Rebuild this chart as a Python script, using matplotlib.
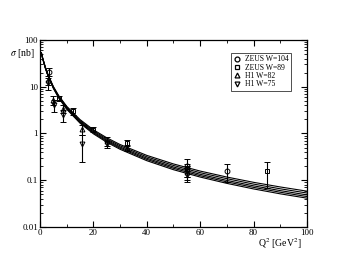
import numpy as np
import matplotlib
matplotlib.use("Agg")
import matplotlib.pyplot as plt
from matplotlib.lines import Line2D
from matplotlib.ticker import FixedLocator, LogLocator, NullFormatter, FixedFormatter

# =====================================================
# Data
# =====================================================

q2_curve = [0.5, 1, 2, 3, 5, 7, 10, 15, 20, 25, 30, 40, 50, 60, 70, 80, 90, 100]

curve_1 = [53.7, 41.0, 26.2, 18.1, 10.1, 6.46, 3.81, 1.98, 1.20, 0.809, 0.580, 0.340,
           0.223, 0.157, 0.117, 0.0902, 0.0718, 0.0584]
curve_2 = [53.5, 40.7, 25.8, 17.8, 9.88, 6.26, 3.67, 1.89, 1.14, 0.763, 0.545, 0.317,
           0.207, 0.145, 0.108, 0.0827, 0.0656, 0.0533]
curve_3 = [53.3, 40.4, 25.5, 17.5, 9.63, 6.07, 3.53, 1.80, 1.08, 0.720, 0.512, 0.296,
           0.192, 0.134, 0.0991, 0.0759, 0.0600, 0.0486]
curve_4 = [53.1, 40.1, 25.2, 17.2, 9.42, 5.91, 3.41, 1.73, 1.03, 0.684, 0.485, 0.279,
           0.180, 0.125, 0.0922, 0.0704, 0.0554, 0.0448]
curve_5 = [52.9, 39.9, 24.9, 17.0, 9.22, 5.75, 3.30, 1.66, 0.984, 0.650, 0.459, 0.262,
           0.168, 0.117, 0.0857, 0.0652, 0.0512, 0.0414]

zeus104_q2 = [3.5, 55, 70]
zeus104_sig = [21, 0.20, 0.158]
zeus104_err = [4, 0.08, 0.068]

zeus89_q2 = [7.0, 12.5, 20, 32.5, 55, 85]
zeus89_sig = [5.6, 3.0, 1.2, 0.62, 0.17, 0.158]
zeus89_err = [0.7, 0.5, 0.15, 0.09, 0.05, 0.09]

h182_q2 = [3.0, 5.0, 8.8, 15.6, 25, 32.5, 55]
h182_sig = [14, 5.2, 3.4, 1.25, 0.7, 0.5, 0.15]
h182_err = [3, 1.2, 0.6, 0.3, 0.15, 0.08, 0.05]

h175_q2 = [3.0, 5.2, 8.8, 15.6, 25, 55]
h175_sig = [12, 4.0, 2.5, 0.6, 0.6, 0.13]
h175_err = [3.5, 1.1, 0.7, 0.35, 0.1, 0.04]

labels = ["ZEUS W=104", "ZEUS W=89", "H1 W=82", "H1 W=75"]
markers = ["o", "s", "^", "v"]

# =====================================================
# Figure
# =====================================================

plt.rcParams["font.family"] = ["Liberation Serif", "DejaVu Serif"]
plt.rcParams["mathtext.fontset"] = "stix"

fig = plt.figure(figsize=(3.46, 2.68), dpi=100)
ax = fig.add_axes([0.1156, 0.153, 0.7714, 0.698])

for c in [curve_1, curve_2, curve_3, curve_4, curve_5]:
    ax.plot(q2_curve, c, color="black", linewidth=0.8)

series = [
    (zeus104_q2, zeus104_sig, zeus104_err),
    (zeus89_q2, zeus89_sig, zeus89_err),
    (h182_q2, h182_sig, h182_err),
    (h175_q2, h175_sig, h175_err),
]

handles = []
for (x, y, e), m, lab in zip(series, markers, labels):
    ax.errorbar(x, y, yerr=e, fmt=m, markersize=3.5, markerfacecolor="none",
                markeredgecolor="black", markeredgewidth=0.7, ecolor="black",
                elinewidth=0.8, capsize=2, capthick=0.8)
    handles.append(Line2D([], [], marker=m, linestyle="none", markersize=3.5,
                          markerfacecolor="none", markeredgecolor="black",
                          markeredgewidth=0.9, label=lab))

ax.set_yscale("log")
ax.set_xlim(0, 100)
ax.set_ylim(0.01, 100)

ax.xaxis.set_major_locator(FixedLocator([0, 20, 40, 60, 80, 100]))
ax.xaxis.set_minor_locator(FixedLocator([10, 30, 50, 70, 90]))
ax.yaxis.set_major_locator(FixedLocator([0.01, 0.1, 1, 10, 100]))
ax.yaxis.set_major_formatter(FixedFormatter(["0.01", "0.1", "1", "10", "100"]))
ax.yaxis.set_minor_locator(LogLocator(base=10, subs=np.arange(2, 10)))
ax.yaxis.set_minor_formatter(NullFormatter())

ax.tick_params(which="both", direction="in", top=True, right=True, labelsize=6.5, pad=1.5)
ax.tick_params(which="major", length=4, width=0.8)
ax.tick_params(which="minor", length=2, width=0.6)
for s in ax.spines.values():
    s.set_linewidth(0.9)

ax.text(-0.067, 0.93, r"$\sigma$ [nb]", transform=ax.transAxes, fontsize=7,
        ha="center", va="center")
ax.text(0.90, -0.09, r"Q$^2$ [GeV$^2$]", transform=ax.transAxes, fontsize=7,
        ha="center", va="center")

leg = ax.legend(handles=handles, loc="upper right", bbox_to_anchor=(0.941, 0.93),
                fontsize=5.5, frameon=True, fancybox=False, edgecolor="black",
                handlelength=1.0, handletextpad=0.6, borderpad=0.3,
                labelspacing=0.05, numpoints=1, borderaxespad=0)
leg.get_frame().set_linewidth(0.6)

fig.savefig("out.png", dpi=100)
